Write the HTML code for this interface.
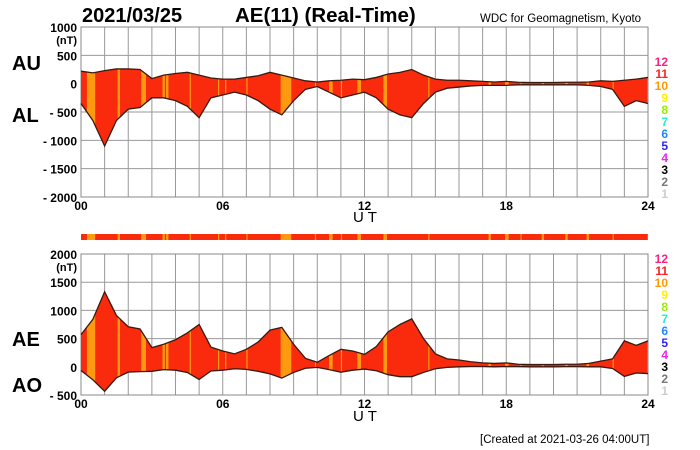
<!DOCTYPE html>
<html><head><meta charset="utf-8"><style>
body{margin:0;background:#fff;}
svg{display:block;font-family:"Liberation Sans",sans-serif;font-weight:bold;}
</style></head><body>
<svg id="chart" width="700" height="450" viewBox="0 0 700 450" xmlns="http://www.w3.org/2000/svg">
<text x="82" y="22" font-size="20">2021/03/25</text>
<text x="235" y="22" font-size="20.5">AE(11) (Real-Time)</text>
<text x="480" y="22" font-size="11.5" font-weight="normal">WDC for Geomagnetism, Kyoto</text>
<text x="12" y="70" font-size="20">AU</text>
<text x="12" y="122" font-size="20">AL</text>
<text x="12" y="346" font-size="20">AE</text>
<text x="12" y="392" font-size="20">AO</text>
<text x="353" y="222" font-size="15" font-weight="normal">U T</text>
<text x="353" y="421" font-size="15" font-weight="normal">U T</text>
<text x="480" y="443" font-size="11.5" font-weight="normal">[Created at 2021-03-26 04:00UT]</text>
<g id="plots"></g>
</svg>
<script>
const hours = [0,0.5,1,1.5,2,2.5,3,3.5,4,4.5,5,5.5,6,6.5,7,7.5,8,8.5,9,9.5,10,10.5,11,11.5,12,12.5,13,13.5,14,14.5,15,15.5,16,16.5,17,17.5,18,18.5,19,19.5,20,20.5,21,21.5,22,22.5,23,23.5,24];
const auValues = [220,190,230,260,260,250,90,150,180,200,150,100,80,80,110,140,200,150,100,50,30,50,60,80,70,110,170,200,250,150,80,60,60,50,40,30,40,25,20,20,20,25,25,30,50,40,60,80,110];
const alValues = [-350,-650,-1100,-650,-450,-420,-250,-250,-300,-400,-600,-250,-200,-150,-200,-300,-450,-550,-300,-100,-50,-150,-250,-200,-150,-250,-450,-550,-600,-350,-150,-80,-60,-40,-30,-30,-30,-20,-20,-20,-20,-20,-20,-30,-50,-100,-400,-300,-350];
const orangeStarts = [0.25,1.55,2.55,3.45,3.6,4.6,5.8,6.1,7.0,8.45,9.9,10.5,11.0,11.7,12.8,14.7,17.25,17.95,18.6,19.5,20.5,21.4,22.5,23.98];
const orangeEnds   = [0.6,1.65,2.75,3.55,3.7,4.65,5.85,6.15,7.05,8.9,9.95,10.65,11.05,11.85,12.95,14.75,17.35,18.1,18.65,19.6,20.6,21.5,22.55,24];
const topTicks = ["1000","500","0","- 500","- 1000","- 1500","- 2000"];
const botTicks = ["2000","1500","1000","500","0","- 500"];
const xTicks = ["00","06","12","18","24"];
const stationLabels = ["12","11","10","9","8","7","6","5","4","3","2","1"];
const stationColors = ["#ff2080","#ff2020","#ff9900","#ffee00","#99ee00","#22eecc","#2288ff","#3322ee","#ee22ee","#000000","#777777","#cccccc"];

const NS="http://www.w3.org/2000/svg";
const g=document.getElementById('plots');
const X0=81,X1=648;
const xs=h=>X0+(X1-X0)*h/24;
function el(t,a,p){const e=document.createElementNS(NS,t);for(const k in a)e.setAttribute(k,a[k]);(p||g).appendChild(e);return e;}

function panel(id,top,bottom,vmax,vmin,ticks,upper,lower,legendY){
  const ys=v=>top+(bottom-top)*(vmax-v)/(vmax-vmin);
  const grp=el('g',{});
  
  
  for(let i=0;i<=24;i++){const l=el('line',{x1:xs(i),x2:xs(i),y1:top,y2:bottom,stroke:'#999','stroke-width':1},grp);
    }
  ticks.forEach((t,i)=>{const v=vmax-i*500;const y=ys(v);
    const l=el('line',{x1:X0,x2:X1,y1:y,y2:y,stroke:'#999','stroke-width':1},grp);
    
    const tx=el('text',{x:X0-4,y:y+5,'text-anchor':'end','font-size':12},grp);tx.textContent=t;
    
    if(i===0){const u=el('text',{x:X0-4,y:y+17,'text-anchor':'end','font-size':11},grp);u.textContent='(nT)';
      }
  });
  el('rect',{x:X0,y:top,width:X1-X0,height:bottom-top,fill:'none',stroke:'#888'},grp);
  xTicks.forEach((t,i)=>{const tx=el('text',{x:xs(i*6),y:bottom+13,'text-anchor':'middle','font-size':12},grp);tx.textContent=t;
    });
  let up=hours.map((h,i)=>xs(h)+','+ys(upper[i]));
  let lo=hours.map((h,i)=>xs(h)+','+ys(lower[i])).reverse();
  const cp=el('clipPath',{id:'clip-'+id},grp);
  el('polygon',{points:up.concat(lo).join(' ')},cp);
  const area=el('polygon',{points:up.concat(lo).join(' '),fill:'#fa2a0c'},grp);
  
  const og=el('g',{'clip-path':'url(#clip-'+id+')'},grp);
  orangeStarts.forEach((s,i)=>{const r=el('rect',{x:xs(s),y:top,width:xs(orangeEnds[i])-xs(s),height:bottom-top,fill:'#ff9a10'},og);
    });
  const l1=el('polyline',{points:up.join(' '),fill:'none',stroke:'#3a1a10','stroke-width':1.3},grp);
  
  const l2=el('polyline',{points:lo.join(' '),fill:'none',stroke:'#3a1a10','stroke-width':1.3},grp);
  
  stationLabels.forEach((s,i)=>{const tx=el('text',{x:668,y:legendY+i*12,'text-anchor':'end','font-size':12,fill:stationColors[i]},grp);tx.textContent=s;
    });
}
panel('au-al',27,197,1000,-2000,topTicks,auValues,alValues,66);
const aeValues=auValues.map((u,i)=>u-alValues[i]);
const aoValues=auValues.map((u,i)=>(u+alValues[i])/2);
panel('ae-ao',254,395,2000,-500,botTicks,aeValues,aoValues,263);
const strip=el('g',{});


el('rect',{x:X0,y:234,width:X1-X0,height:6,fill:'#fa2a0c'},strip);
orangeStarts.forEach((s,i)=>{const r=el('rect',{x:xs(s),y:234,width:xs(orangeEnds[i])-xs(s),height:6,fill:'#ff9a10'},strip);
  });
</script>
</body></html>
